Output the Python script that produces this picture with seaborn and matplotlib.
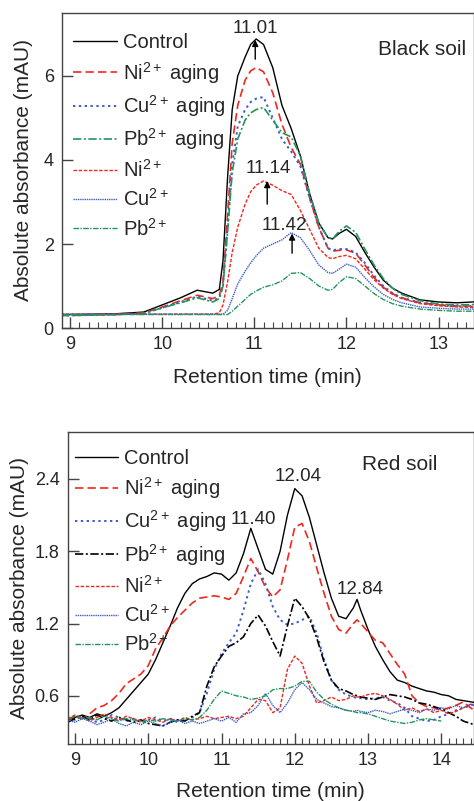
import matplotlib
matplotlib.use("Agg")
import matplotlib.pyplot as plt
from matplotlib.ticker import MultipleLocator, FormatStrFormatter
import seaborn as sns

# ---------------------------------------------------------------------------
# data
# ---------------------------------------------------------------------------

# black soil, retention time (min)
t_black = [8.9, 9.0, 9.5, 9.8, 10.0, 10.2, 10.38, 10.55, 10.62, 10.66, 10.71,
           10.76, 10.82, 10.9, 10.96, 11.02, 11.1, 11.2, 11.3, 11.4, 11.5,
           11.6, 11.7, 11.8, 11.85, 11.92, 12.0, 12.1, 12.2, 12.3, 12.4, 12.5,
           12.6, 12.8, 13.0, 13.2, 13.45]

black_control = [0.32, 0.32, 0.34, 0.38, 0.55, 0.72, 0.9, 0.83, 0.92, 1.6, 3.6,
                 5.2, 6.0, 6.45, 6.75, 6.88, 6.75, 6.2, 5.3, 4.75, 4.1,
                 3.2, 2.5, 2.15, 2.12, 2.25, 2.35, 2.18, 1.8, 1.45, 1.14, 0.95,
                 0.83, 0.67, 0.62, 0.6, 0.63]
black_ni_aging = [0.3, 0.3, 0.32, 0.36, 0.5, 0.65, 0.78, 0.7, 0.78, 1.1, 2.7,
                  4.4, 5.3, 5.9, 6.12, 6.2, 6.1, 5.6, 4.85, 4.3, 3.9,
                  3.1, 2.4, 1.9, 1.83, 1.85, 1.86, 1.78, 1.5, 1.2, 0.97, 0.82,
                  0.72, 0.6, 0.55, 0.53, 0.52]
black_cu_aging = [0.3, 0.3, 0.32, 0.35, 0.48, 0.62, 0.75, 0.65, 0.72, 1.0, 2.4,
                  3.9, 4.8, 5.2, 5.38, 5.46, 5.5, 5.0, 4.5, 4.2, 3.85,
                  3.1, 2.4, 1.9, 1.85, 1.88, 1.88, 1.8, 1.55, 1.25, 1.0, 0.83,
                  0.72, 0.6, 0.55, 0.52, 0.5]
black_pb_aging = [0.3, 0.3, 0.32, 0.35, 0.48, 0.6, 0.72, 0.62, 0.7, 1.0, 2.3,
                  3.7, 4.5, 4.95, 5.12, 5.2, 5.25, 4.95, 4.65, 4.55, 4.1,
                  3.2, 2.5, 2.15, 2.12, 2.3, 2.43, 2.28, 1.88, 1.5, 1.18, 0.95,
                  0.8, 0.65, 0.57, 0.55, 0.56]
black_ni = [0.33, 0.33, 0.33, 0.33, 0.33, 0.33, 0.33, 0.33, 0.36, 0.55, 1.1,
            1.8, 2.4, 2.95, 3.24, 3.4, 3.5, 3.4, 3.27, 3.18, 2.8,
            2.35, 1.9, 1.68, 1.65, 1.7, 1.73, 1.65, 1.4, 1.15, 0.95, 0.8,
            0.7, 0.58, 0.53, 0.5, 0.49]
black_cu = [0.33, 0.33, 0.33, 0.33, 0.33, 0.33, 0.33, 0.33, 0.33, 0.33, 0.42,
            0.7, 1.05, 1.35, 1.55, 1.72, 1.9, 2.0, 2.1, 2.27, 2.15,
            1.85, 1.5, 1.32, 1.3, 1.4, 1.52, 1.45, 1.2, 0.98, 0.8, 0.68,
            0.6, 0.5, 0.47, 0.45, 0.45]
black_pb = [0.32, 0.32, 0.32, 0.32, 0.32, 0.32, 0.32, 0.32, 0.32, 0.32, 0.32,
            0.4, 0.52, 0.68, 0.8, 0.88, 0.97, 1.03, 1.12, 1.3, 1.32,
            1.18, 1.0, 0.9, 0.92, 1.08, 1.22, 1.18, 1.0, 0.82, 0.68, 0.58,
            0.52, 0.45, 0.42, 0.4, 0.4]

# red soil, retention time (min)
t_red = [8.9, 9.0, 9.1, 9.2, 9.3, 9.4, 9.5, 9.6, 9.7, 9.8,
         9.9, 10.0, 10.1, 10.2, 10.3, 10.4, 10.5, 10.6, 10.7, 10.8,
         10.9, 11.0, 11.1, 11.2, 11.3, 11.4, 11.5, 11.6, 11.7, 11.8,
         11.9, 12.0, 12.1, 12.2, 12.3, 12.4, 12.5, 12.6, 12.7, 12.8, 12.85,
         12.9, 13.0, 13.1, 13.2, 13.3, 13.4, 13.5, 13.6, 13.7, 13.8,
         13.9, 14.0, 14.1, 14.2, 14.3, 14.4, 14.5]

red_control = [0.40, 0.42, 0.44, 0.42, 0.45, 0.43, 0.46, 0.50, 0.57, 0.64,
               0.71, 0.78, 0.90, 1.04, 1.18, 1.33, 1.45, 1.53, 1.57, 1.59,
               1.62, 1.61, 1.56, 1.62, 1.78, 1.99, 1.82, 1.65, 1.61, 1.80,
               2.10, 2.32, 2.26, 2.08, 1.85, 1.62, 1.41, 1.26, 1.24, 1.33, 1.40,
               1.31, 1.15, 1.01, 0.90, 0.80, 0.73, 0.71, 0.68, 0.66, 0.64,
               0.63, 0.61, 0.60, 0.57, 0.56, 0.55, 0.54]
red_ni_aging = [0.40, 0.43, 0.41, 0.45, 0.50, 0.52, 0.56, 0.62, 0.70, 0.74,
                0.78, 0.85, 0.99, 1.08, 1.18, 1.25, 1.31, 1.37, 1.41, 1.42,
                1.43, 1.42, 1.40, 1.45, 1.59, 1.74, 1.63, 1.50, 1.42, 1.48,
                1.73, 2.00, 2.03, 1.88, 1.66, 1.45, 1.26, 1.15, 1.12, 1.20, 1.23,
                1.20, 1.13, 1.06, 1.04, 0.95, 0.86, 0.78, 0.60, 0.54, 0.51,
                0.50, 0.48, 0.50, 0.52, 0.55, 0.50, 0.46]
red_cu_aging = [0.42, 0.40, 0.43, 0.41, 0.38, 0.40, 0.44, 0.42, 0.39, 0.41,
                0.38, 0.40, 0.42, 0.39, 0.41, 0.38, 0.40, 0.42, 0.46, 0.62,
                0.82, 0.95, 1.04, 1.12, 1.31, 1.53, 1.65, 1.53, 1.34, 1.23,
                1.19, 1.20, 1.23, 1.26, 1.12, 0.90, 0.73, 0.65, 0.61, 0.59, 0.58,
                0.58, 0.57, 0.58, 0.59, 0.56, 0.54, 0.50, 0.43, 0.41, 0.39,
                0.40, 0.43, 0.45, 0.48, 0.50, 0.52, 0.54]
red_pb_aging = [0.38, 0.41, 0.43, 0.40, 0.44, 0.41, 0.39, 0.42, 0.40, 0.38,
                0.40, 0.37, 0.36, 0.35, 0.38, 0.40, 0.39, 0.43, 0.46, 0.68,
                0.84, 0.93, 1.01, 1.04, 1.09, 1.20, 1.27, 1.18, 1.05, 0.93,
                1.18, 1.41, 1.34, 1.24, 1.08, 0.88, 0.73, 0.66, 0.64, 0.61, 0.60,
                0.59, 0.58, 0.57, 0.59, 0.61, 0.60, 0.59, 0.57, 0.54, 0.53,
                0.51, 0.49, 0.46, 0.43, 0.39, 0.37, 0.35]
red_ni = [0.41, 0.44, 0.42, 0.39, 0.42, 0.45, 0.42, 0.40, 0.43, 0.41,
          0.39, 0.42, 0.40, 0.38, 0.41, 0.39, 0.42, 0.40, 0.41, 0.43,
          0.41, 0.42, 0.43, 0.41, 0.43, 0.50, 0.57, 0.56, 0.46, 0.50,
          0.82, 0.93, 0.87, 0.68, 0.54, 0.56, 0.59, 0.56, 0.57, 0.60, 0.59,
          0.59, 0.61, 0.62, 0.60, 0.57, 0.53, 0.48, 0.50, 0.47, 0.49,
          0.46, 0.48, 0.45, 0.47, 0.50, 0.53, 0.51]
red_cu = [0.40, 0.38, 0.41, 0.39, 0.36, 0.38, 0.41, 0.37, 0.35, 0.38,
          0.36, 0.39, 0.37, 0.35, 0.38, 0.40, 0.37, 0.39, 0.37, 0.39,
          0.41, 0.39, 0.42, 0.38, 0.45, 0.46, 0.52, 0.62, 0.52, 0.46,
          0.54, 0.65, 0.71, 0.65, 0.57, 0.54, 0.51, 0.50, 0.48, 0.47, 0.48,
          0.47, 0.46, 0.48, 0.47, 0.45, 0.47, 0.49, 0.48, 0.46, 0.49,
          0.48, 0.50, 0.49, 0.52, 0.50, 0.53, 0.51]
red_pb = [0.41, 0.43, 0.41, 0.42, 0.40, 0.43, 0.41, 0.39, 0.41, 0.40,
          0.38, 0.40, 0.39, 0.41, 0.40, 0.39, 0.41, 0.40, 0.42, 0.48,
          0.57, 0.64, 0.62, 0.60, 0.59, 0.57, 0.58, 0.60, 0.65, 0.66,
          0.66, 0.68, 0.72, 0.72, 0.63, 0.57, 0.53, 0.50, 0.48, 0.47, 0.46,
          0.46, 0.45, 0.43, 0.41, 0.39, 0.38, 0.37, 0.38, 0.40, 0.41,
          0.40, 0.39]

labels = ["Control", "Ni$^{2+}$ aging", "Cu$^{2+}$ aging", "Pb$^{2+}$ aging",
          "Ni$^{2+}$", "Cu$^{2+}$", "Pb$^{2+}$"]

RED = "#f0281e"
BLUE = "#3a5cc8"
GREEN = "#23955a"
STYLES = [
    dict(linestyle="-", lw=1.0),
    dict(linestyle=(0, (5, 2.5)), lw=1.2),
    dict(linestyle=(0, (1.2, 1.8)), lw=1.4),
    dict(linestyle=(0, (5, 1.5, 1.2, 1.5)), lw=1.2),
    dict(linestyle=(0, (2.5, 1.2)), lw=1.0),
    dict(linestyle=(0, (1, 0.6)), lw=1.0),
    dict(linestyle=(0, (4, 1, 1, 1)), lw=1.0),
]


def init():
    sns.set_style("ticks")
    plt.rcParams["font.family"] = ["Liberation Sans", "DejaVu Sans"]
    plt.rcParams["mathtext.fontset"] = "custom"
    plt.rcParams["mathtext.rm"] = "Liberation Sans"
    plt.rcParams["mathtext.it"] = "Liberation Sans:italic"
    plt.rcParams["mathtext.bf"] = "Liberation Sans:bold"


def style_axes(ax, xlim, ylim, yticks):
    ax.set_xlim(*xlim)
    ax.set_ylim(*ylim)
    ax.set_yticks(yticks)
    ax.xaxis.set_major_locator(MultipleLocator(1))
    ax.xaxis.set_minor_locator(MultipleLocator(0.1))
    ax.tick_params(axis="x", which="major", direction="in", length=8,
                   width=1, color="#444444", labelsize=13, pad=6)
    ax.tick_params(axis="x", which="minor", direction="in", length=4,
                   width=0.8, color="#444444")
    ax.tick_params(axis="y", which="major", direction="in", length=8,
                   width=1, color="#444444", labelsize=13, pad=6)
    ax.tick_params(top=False, right=False)
    for s in ax.spines.values():
        s.set_color("#444444")
        s.set_linewidth(1.0)
    ax.set_xlabel("Retention time (min)", fontsize=15)
    ax.set_ylabel("Absolute absorbance (mAU)", fontsize=15)


def draw_panel(ax, series, colors):
    for (t, y), c, st, lab in zip(series, colors, STYLES, labels):
        sns.lineplot(x=t, y=y, ax=ax, color=c, label=lab, sort=False,
                     estimator=None, **st)
    ax.legend(loc="upper left", frameon=False, fontsize=14.5,
              handlelength=2.15, handletextpad=0.3, labelspacing=0.36,
              borderpad=0, borderaxespad=0)


def arrow(ax, x, y0, y1):
    ax.annotate("", xy=(x, y1), xytext=(x, y0),
                arrowprops=dict(arrowstyle="-|>", color="black", lw=1.0,
                                mutation_scale=9, shrinkA=0, shrinkB=0))


init()
fig = plt.figure(figsize=(4.74, 8.01), dpi=100)

# black soil
ax1 = fig.add_axes([0.131, 0.5905, 0.868, 0.3933])
draw_panel(
    ax1,
    [(t_black, black_control), (t_black, black_ni_aging), (t_black, black_cu_aging),
     (t_black, black_pb_aging), (t_black, black_ni), (t_black, black_cu),
     (t_black, black_pb)],
    ["black", RED, BLUE, GREEN, RED, BLUE, GREEN],
)
style_axes(ax1, (8.913, 13.38), (0, 7.5), [0, 2, 4, 6])
ax1.get_legend().set_bbox_to_anchor((0.027, 0.935), transform=ax1.transAxes)
ax1.text(11.01, 7.12, "11.01", ha="center", va="center", fontsize=13.5)
arrow(ax1, 11.01, 6.4, 6.86)
ax1.text(11.15, 3.8, "11.14", ha="center", va="center", fontsize=13.5)
arrow(ax1, 11.14, 2.95, 3.5)
ax1.text(11.33, 2.45, "11.42", ha="center", va="center", fontsize=13.5)
arrow(ax1, 11.41, 1.78, 2.25)
ax1.text(13.3, 6.62, "Black soil", ha="right", va="center", fontsize=15)
ax1.xaxis.set_label_coords(0.5, -0.128)
ax1.yaxis.set_label_coords(-0.071, 0.5)

# red soil
ax2 = fig.add_axes([0.1435, 0.0712, 0.8555, 0.3895])
draw_panel(
    ax2,
    [(t_red, red_control), (t_red, red_ni_aging), (t_red, red_cu_aging),
     (t_red, red_pb_aging), (t_red, red_ni), (t_red, red_cu),
     (t_red[:len(red_pb)], red_pb)],
    ["black", RED, BLUE, "black", RED, BLUE, GREEN],
)
style_axes(ax2, (8.905, 14.44), (0.2, 2.79), [0.6, 1.2, 1.8, 2.4])
ax2.yaxis.set_major_formatter(FormatStrFormatter("%.1f"))
ax2.get_legend().set_bbox_to_anchor((0.017, 0.945), transform=ax2.transAxes)
ax2.text(11.43, 2.065, "11.40", ha="center", va="center", fontsize=13.5)
ax2.text(12.05, 2.42, "12.04", ha="center", va="center", fontsize=13.5)
ax2.text(12.89, 1.48, "12.84", ha="center", va="center", fontsize=13.5)
ax2.text(13.95, 2.516, "Red soil", ha="right", va="center", fontsize=15)
ax2.xaxis.set_label_coords(0.5, -0.121)
ax2.yaxis.set_label_coords(-0.096, 0.5)

fig.savefig("out.png", dpi=100)
